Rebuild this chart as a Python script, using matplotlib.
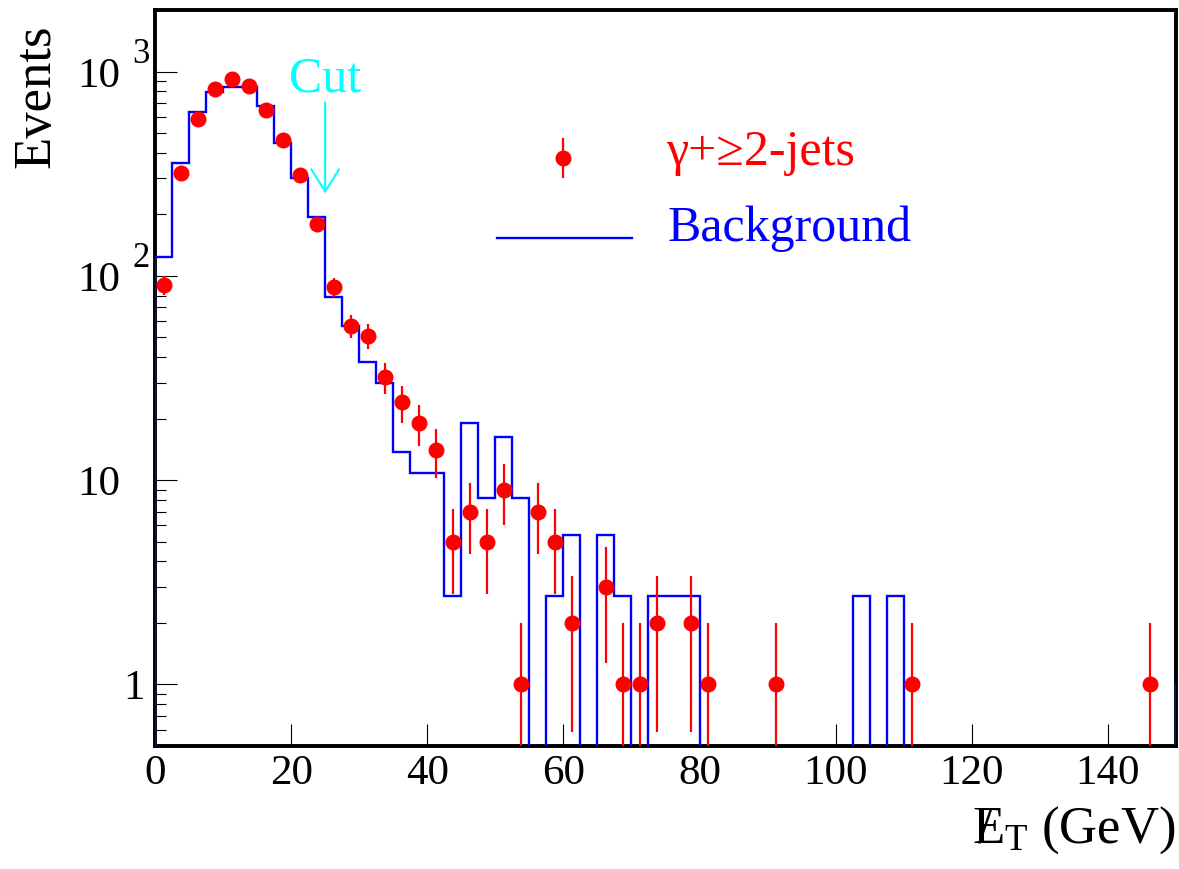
import numpy as np
import matplotlib
matplotlib.use("Agg")
import matplotlib.pyplot as plt
from matplotlib import transforms
from matplotlib.ticker import FixedLocator, NullFormatter, FixedFormatter

plt.rcParams['font.family'] = ['Liberation Serif', 'DejaVu Serif']
plt.rcParams['mathtext.fontset'] = 'custom'
plt.rcParams['mathtext.rm'] = 'Liberation Serif'
plt.rcParams['mathtext.it'] = 'Liberation Serif'
plt.rcParams['mathtext.bf'] = 'Liberation Serif:bold'

# ---- data -------------------------------------------------------------
bin_width = 2.5

# background expectation per 2.5 GeV bin, starting at 0 GeV (last bin = overflow)
bkg_counts = [
    123, 356, 635, 793, 839, 839, 677, 446, 302, 195,
    79, 57, 38, 30, 13.7, 10.9, 10.9, 2.71, 19.1, 8.16,
    16.2, 8.16, 0, 2.71, 5.42, 0, 5.42, 2.71, 0, 2.71,
    2.71, 2.71, 0, 0, 0, 0, 0, 0, 0, 0,
    0, 2.71, 0, 2.71, 0, 0, 0, 0, 0, 0,
    0, 0, 0, 0, 0, 0, 0, 0, 0, 0,
    1,
]

# observed gamma + >=2 jets events (bin centres and counts)
data_met = [1.25, 3.75, 6.25, 8.75, 11.25, 13.75, 16.25, 18.75, 21.25, 23.75,
            26.25, 28.75, 31.25, 33.75, 36.25, 38.75, 41.25, 43.75, 46.25, 48.75,
            51.25, 53.75, 56.25, 58.75, 61.25, 66.25, 68.75, 71.25, 73.75, 78.75,
            81.25, 91.25, 111.25, 146.25]
data_counts = [90, 320, 585, 820, 920, 845, 650, 463, 310, 180,
               88, 57, 51, 32, 24, 19, 14, 5, 7, 5,
               9, 1, 7, 5, 2, 3, 1, 1, 2, 2,
               1, 1, 1, 1]

x_ticks = [0, 20, 40, 60, 80, 100, 120, 140]
x_tick_labels = ['0', '20', '40', '60', '80', '100', '120', '140']
y_major = [1, 10, 100, 1000]

cut_value = 25

RED = '#ff0000'
BLUE = '#0000ff'
CYAN = '#00ffff'

# ---- figure -----------------------------------------------------------
W, H = 1179, 869
fig = plt.figure(figsize=(W / 100, H / 100), dpi=100)
ax = fig.add_axes([155 / W, 1 - 746 / H, (1176 - 155) / W, (746 - 10) / H])
ax.set_yscale('log')
ax.set_xlim(0, 150)
ax.set_ylim(0.5, 2000)

# background histogram
bkg = np.asarray(bkg_counts, dtype=float)
edges = np.arange(len(bkg) + 1) * bin_width
floor = 1e-3
ax.stairs(np.where(bkg > 0, bkg, floor), edges, baseline=floor,
          color=BLUE, lw=1.7, zorder=3)

# data points with Poisson errors
y = np.asarray(data_counts, dtype=float)
err = np.sqrt(y)
err_lo = np.minimum(err, y - floor)
ax.errorbar(data_met, y, yerr=[err_lo, err], fmt='o', color=RED, ms=10.5,
            elinewidth=1.6, capsize=0, zorder=4)

# cut arrow
ax.annotate('', xy=(cut_value, 253), xytext=(cut_value, 706),
            arrowprops=dict(arrowstyle='->,head_length=0.8,head_width=0.5',
                            color=CYAN, lw=1.5, shrinkA=0, shrinkB=0,
                            mutation_scale=20))
ax.text(cut_value, 800, 'Cut', color=CYAN, fontsize=36, ha='center',
        va='baseline')

# legend
ax.plot([0.3996], [0.799], 'o', color=RED, ms=10.5, transform=ax.transAxes,
        clip_on=False, zorder=5)
ax.plot([0.3996, 0.3996], [0.799 - 0.0255, 0.799 + 0.0255], color=RED,
        lw=1.6, transform=ax.transAxes, clip_on=False, zorder=5)
ax.text(0.5005, 0.7894, 'γ+≥2-jets', color=RED, fontsize=36,
        transform=ax.transAxes, ha='left', va='baseline')
ax.plot([0.335, 0.467], [0.690, 0.690], color=BLUE, lw=1.7,
        transform=ax.transAxes, clip_on=False)
ax.text(0.5022, 0.6861, 'Background', color=BLUE, fontsize=36,
        transform=ax.transAxes, ha='left', va='baseline')

# axes styling
for s in ax.spines.values():
    s.set_linewidth(2.8)
    s.set_zorder(2)

ax.xaxis.set_major_locator(FixedLocator(x_ticks))
ax.xaxis.set_major_formatter(FixedFormatter(x_tick_labels))
ax.tick_params(axis='x', which='major', direction='in', length=16, width=0.8,
               labelsize=31, pad=6, top=False)
ax.tick_params(axis='x', which='minor', bottom=False, top=False)

ax.yaxis.set_major_locator(FixedLocator(y_major))
minor = [m * 10.0 ** e for e in range(-1, 4) for m in range(2, 10)]
ax.yaxis.set_minor_locator(FixedLocator(minor))
ax.yaxis.set_major_formatter(NullFormatter())
ax.yaxis.set_minor_formatter(NullFormatter())
ax.tick_params(axis='y', which='major', direction='in', length=16, width=0.8,
               right=False)
ax.tick_params(axis='y', which='minor', direction='in', length=8, width=0.8,
               right=False)

# y tick labels in ROOT style: 1, 10, 10^2, 10^3
ypx = 204.3  # pixels per decade
lab_tr = transforms.blended_transform_factory(ax.transAxes, ax.transData)
x_base = (77 - 155) / 1021
x_exp = (132 - 155) / 1021
x_one = (134 - 155) / 1021
for v in y_major:
    base_y = v / 10 ** (15 / ypx)
    if v == 1:
        ax.text(x_one, base_y, '1', fontsize=31, ha='center', va='baseline',
                transform=lab_tr)
    else:
        ax.text(x_base, base_y, '10', fontsize=31, ha='left', va='baseline',
                transform=lab_tr)
        if v > 10:
            ax.text(x_exp, v * 10 ** (9 / ypx), str(int(round(np.log10(v)))),
                    fontsize=25, ha='left', va='baseline', transform=lab_tr)

# axis titles
fig.text(36 / W, 1 - 96 / H, 'Events', rotation=90, fontsize=38,
         ha='center', va='center')
fig.text(1175 / W, 1 - 843 / H, r'$/\!\!\!\mathrm{E}_{\mathrm{T}}$ (GeV)',
         fontsize=38, ha='right', va='baseline')

fig.savefig('out.png', dpi=100)
